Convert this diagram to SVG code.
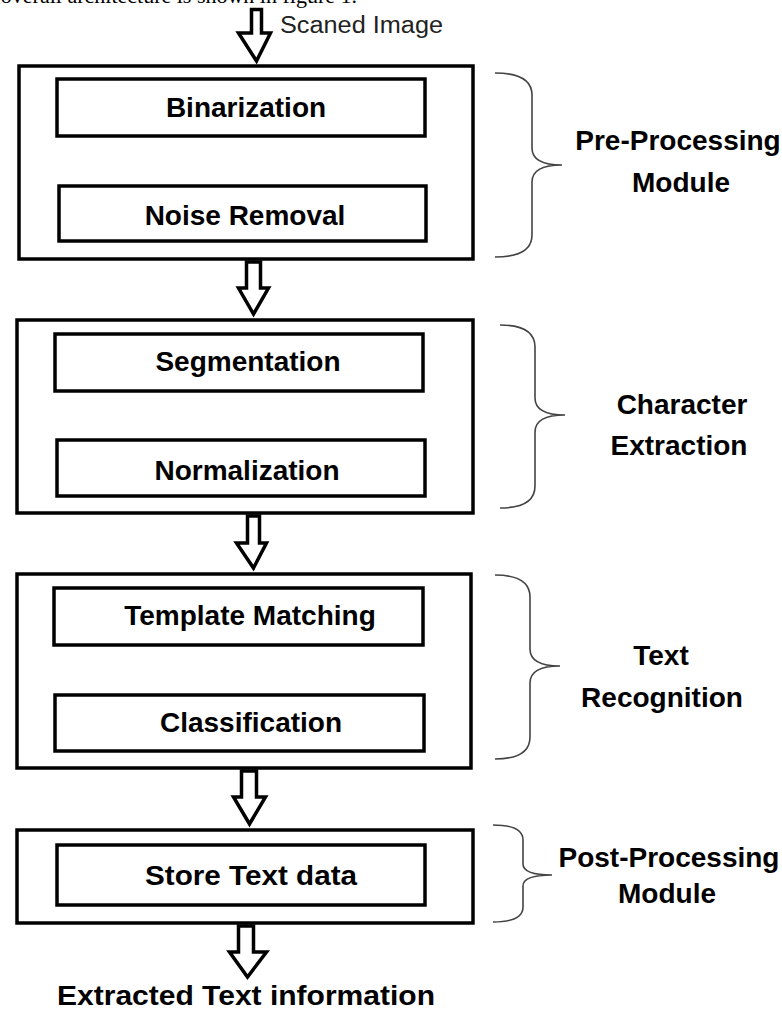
<svg xmlns="http://www.w3.org/2000/svg" width="782" height="1009" viewBox="0 0 782 1009">
<style>
.box{fill:#fff;stroke:#000;stroke-width:3.5}
.ibox{fill:none;stroke:#000;stroke-width:3.5}
.lbl{font-family:"Liberation Sans",Arial,sans-serif;font-weight:bold;font-size:28px;fill:#000;text-anchor:middle}
.side{font-family:"Liberation Sans",Arial,sans-serif;font-weight:bold;font-size:28px;fill:#000;text-anchor:middle}
.arrow{fill:#fff;stroke:#000;stroke-width:3.5;stroke-linejoin:miter}
.brace{fill:none;stroke:#444;stroke-width:1.6}
</style>
<rect width="782" height="1009" fill="#fff"/>
<text x="357" y="3" font-family="'Liberation Serif','Times New Roman',serif" font-size="22" text-anchor="end" fill="#000">overall architecture is shown in figure 1.</text>
<text x="280" y="33" font-family="'Liberation Sans',Arial,sans-serif" font-size="23" fill="#222" textLength="163" lengthAdjust="spacingAndGlyphs">Scaned Image</text>

<g id="module-preprocessing">
<rect class="box" x="19" y="66" width="454" height="193"/>
<g id="binarization"><rect class="ibox" x="57" y="79" width="368" height="57"/><text class="lbl" x="246" y="117">Binarization</text></g>
<g id="noise-removal"><rect class="ibox" x="59" y="186" width="367" height="55"/><text class="lbl" x="245" y="225">Noise Removal</text></g>
</g>
<g id="module-character">
<rect class="box" x="17" y="320" width="456" height="193"/>
<g id="segmentation"><rect class="ibox" x="55" y="334" width="368" height="57"/><text class="lbl" x="248" y="371">Segmentation</text></g>
<g id="normalization"><rect class="ibox" x="57" y="440" width="368" height="56"/><text class="lbl" x="247" y="480">Normalization</text></g>
</g>
<g id="module-recognition">
<rect class="box" x="17" y="574" width="454" height="194"/>
<g id="template-matching"><rect class="ibox" x="54" y="588" width="369" height="57"/><text class="lbl" x="250" y="625">Template Matching</text></g>
<g id="classification"><rect class="ibox" x="55" y="695" width="369" height="56"/><text class="lbl" x="251" y="732">Classification</text></g>
</g>
<g id="module-postprocessing">
<rect class="box" x="17" y="830" width="456" height="93"/>
<g id="store-text"><rect class="ibox" x="57" y="845" width="368" height="60"/><text class="lbl" x="251" y="885" font-size="31" textLength="212" lengthAdjust="spacingAndGlyphs">Store Text data</text></g>
</g>
<g id="output">
<text class="lbl" x="246" y="1005" font-size="26" textLength="378" lengthAdjust="spacingAndGlyphs">Extracted Text information</text>
</g>

<g id="connectors">
<path class="arrow" d="M251.5 9.5 L261.5 9.5 L261.5 33 L270.5 33 L256.5 61 L238.5 33 L251.5 33 Z"/>
<path class="arrow" d="M246.5 262 L260.5 262 L260.5 288 L268.5 288 L253.5 314 L238.5 288 L246.5 288 Z"/>
<path class="arrow" d="M247.5 516 L259.5 516 L259.5 543 L266.5 543 L253.5 568 L236.5 543 L247.5 543 Z"/>
<path class="arrow" d="M241.5 771 L256.5 771 L256.5 797 L265.5 797 L249.5 824 L233.5 797 L241.5 797 Z"/>
<path class="arrow" d="M238.5 926 L253.5 926 L253.5 952 L266.5 952 L247.5 977 L229.5 952 L238.5 952 Z"/>
</g>

<g id="label-preprocessing">
<path class="brace" d="M495 73 Q532 73 532 95 L532 148 Q532 165 562 165 Q532 165 532 182 L532 235 Q532 257 495 257"/>
<text class="side" x="678" y="150">Pre-Processing</text>
<text class="side" x="681" y="192">Module</text>
</g>
<g id="label-character">
<path class="brace" d="M500 325 Q535 325 535 347 L535 398 Q535 415 565 415 Q535 415 535 432 L535 486 Q535 508 500 508"/>
<text class="side" x="682" y="414">Character</text>
<text class="side" x="679" y="455">Extraction</text>
</g>
<g id="label-recognition">
<path class="brace" d="M495 575 Q530 575 530 597 L530 649 Q530 666 560 666 Q530 666 530 683 L530 737 Q530 759 495 759"/>
<text class="side" x="661" y="665">Text</text>
<text class="side" x="662" y="707">Recognition</text>
</g>
<g id="label-postprocessing">
<path class="brace" d="M493 825 Q523 825 523 840 L523 864 Q523 875 552 875 Q523 875 523 886 L523 907 Q523 922 493 922"/>
<text class="side" x="669" y="867">Post-Processing</text>
<text class="side" x="667" y="903">Module</text>
</g>
</svg>
